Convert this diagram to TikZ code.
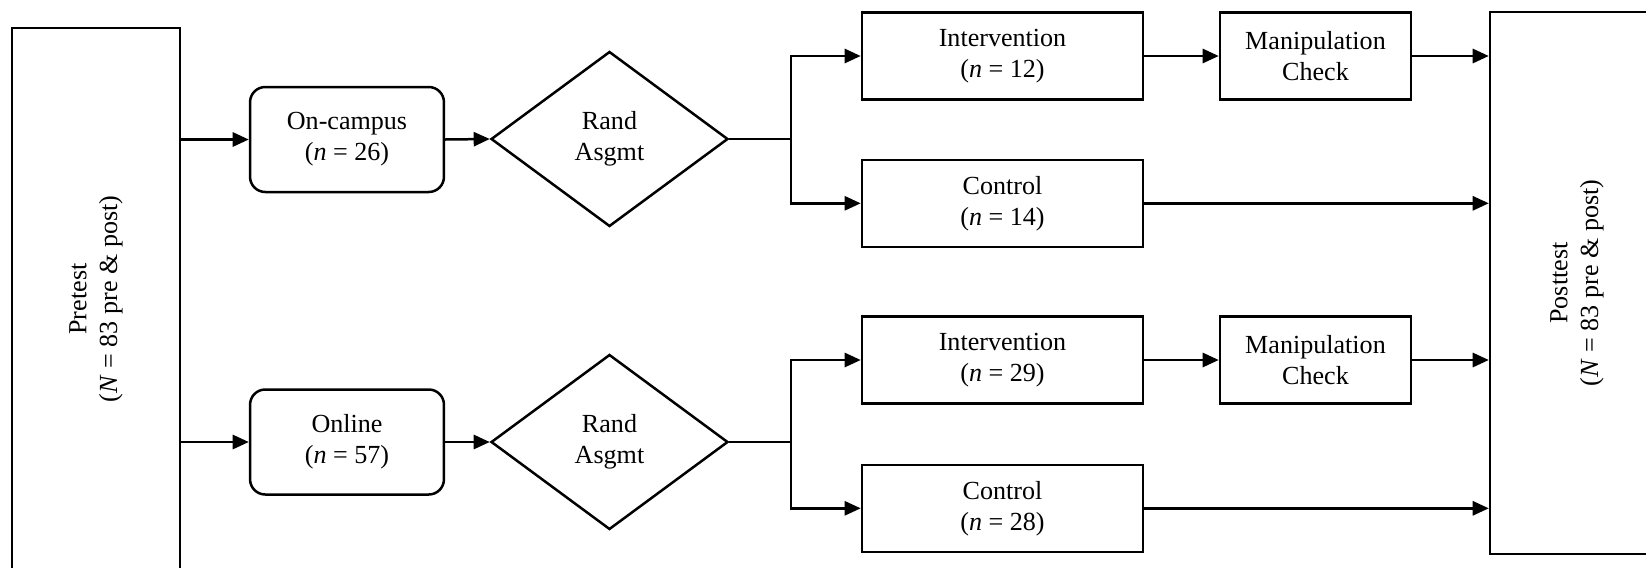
\documentclass[tikz,border=0pt]{standalone}
\usepackage{fontspec}
\setmainfont{Liberation Serif}
\usetikzlibrary{arrows.meta,shapes.geometric}
\begin{document}
\begin{tikzpicture}[x=0.46pt,y=-0.46pt,
  every node/.style={font=\fontsize{12}{14.2}\selectfont, align=center, line width=1.15pt, inner sep=0pt},
  bigbox/.style={draw, rectangle, minimum width=249.4pt, minimum height=77.3pt},
  roundbox/.style={draw, rectangle, rounded corners=7pt, minimum width=89.2pt, minimum height=48.3pt},
  randbox/.style={draw, diamond, minimum width=109pt, minimum height=80.5pt},
  armbox/.style={draw, rectangle, minimum width=129.3pt, minimum height=40pt},
  checkbox/.style={draw, rectangle, minimum width=87.9pt, minimum height=40pt},
  conn/.style={line width=1.15pt},
  arr/.style={conn, -{Triangle[length=7.4pt,width=6.5pt]}}
]
\useasboundingbox (0,0) rectangle (1646,567);
\node[bigbox, rotate=90] (pre) at (96,299) {Pretest\\(\textit{N} = 83 pre \& post)};
\node[bigbox, rotate=90, minimum width=249.5pt, minimum height=80pt] (post) at (1577,283) {Posttest\\(\textit{N} = 83 pre \& post)};

\node[roundbox] (camp) at (347,139.5) {On-campus\\(\textit{n} = 26)};
\node[roundbox] (onl) at (347,442) {Online\\(\textit{n} = 57)};

\node[randbox] (r1) at (609.5,139) {Rand\\Asgmt};
\node[randbox] (r2) at (609.5,442) {Rand\\Asgmt};

\node[armbox] (i1) at (1002.5,56) {Intervention\\(\textit{n} = 12)};
\node[armbox] (c1) at (1002.5,203.3) {Control\\(\textit{n} = 14)};
\node[armbox] (i2) at (1002.5,360) {Intervention\\(\textit{n} = 29)};
\node[armbox] (c2) at (1002.5,508.3) {Control\\(\textit{n} = 28)};

\node[checkbox] (m1) at (1315.5,56) {Manipulation\\Check};
\node[checkbox] (m2) at (1315.5,360) {Manipulation\\Check};

\coordinate (b1) at (791,139);
\coordinate (b2) at (791,442);

\draw[arr] (camp.west -| pre.south) -- (camp.west);
\draw[arr] (onl.west -| pre.south) -- (onl.west);
\draw[arr] (camp.east) -- (r1.west);
\draw[arr] (onl.east) -- (r2.west);

\draw[conn] (r1.east) -- (b1);
\draw[arr] (b1) |- (i1.west);
\draw[arr] (b1) |- (c1.west);
\draw[conn] (r2.east) -- (b2);
\draw[arr] (b2) |- (i2.west);
\draw[arr] (b2) |- (c2.west);

\draw[arr] (i1.east) -- (m1.west);
\draw[arr] (i2.east) -- (m2.west);
\draw[arr] (m1.east) -- (m1.east -| post.north);
\draw[arr] (c1.east) -- (c1.east -| post.north);
\draw[arr] (m2.east) -- (m2.east -| post.north);
\draw[arr] (c2.east) -- (c2.east -| post.north);
\end{tikzpicture}
\end{document}
